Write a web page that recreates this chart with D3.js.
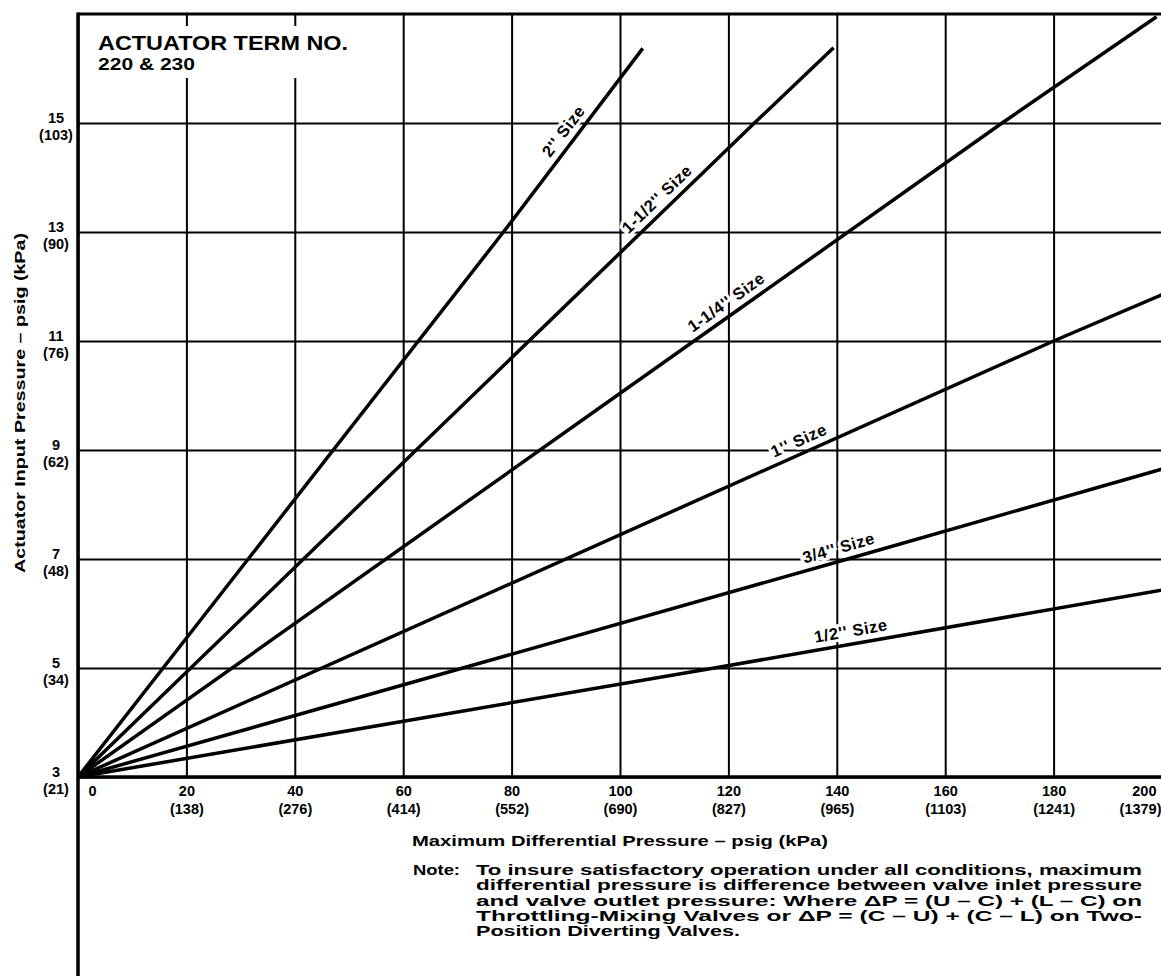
<!DOCTYPE html>
<html>
<head>
<meta charset="utf-8">
<script src="https://cdn.jsdelivr.net/npm/d3@7"></script>
<style>
  body { margin: 0; background: #fff; }
  svg { display: block; background: #fff; }
</style>
</head>
<body>
<div id="chart"></div>
<script>
// valve size curves: differential psi vs. actuator psig
const sizeLabels = ["2'' Size", "1-1/2'' Size", "1-1/4'' Size", "1'' Size", "3/4'' Size", "1/2'' Size"];
const psiValues = [
  [0, 78.5, 104.2],
  [0, 124.8, 139.4],
  [0, 170.5, 199],
  [0, 180, 200],
  [0, 142, 200],
  [0, 117.4, 200]
];
const psigValues = [
  [3, 13, 16.37],
  [3, 15, 16.38],
  [3, 15, 16.95],
  [3, 11, 11.85],
  [3, 7, 8.65],
  [3, 5, 6.43]
];

const xTicks = [0, 20, 40, 60, 80, 100, 120, 140, 160, 180, 200];
const xTicksKpa = ["", "(138)", "(276)", "(414)", "(552)", "(690)", "(827)", "(965)", "(1103)", "(1241)", "(1379)"];
const yTicks = [3, 5, 7, 9, 11, 13, 15];
const yTicksKpa = ["(21)", "(34)", "(48)", "(62)", "(76)", "(90)", "(103)"];

const noteLines = [
  "To insure satisfactory operation under all conditions, maximum",
  "differential pressure is difference between valve inlet pressure",
  "and valve outlet pressure: Where \u0394P = (U \u2013 C) + (L \u2013 C) on",
  "Throttling-Mixing Valves or \u0394P = (C \u2013 U) + (C \u2013 L) on Two-",
  "Position Diverting Valves."
];

// where each size label sits along its line (psi)
const labelPsi = [91.5, 108.5, 121, 134, 141, 143];

const plotTop = 14, plotBottom = 777, plotLeft = 78, plotRight = 1162;

const x = d3.scaleLinear().domain([0, 200]).range([plotLeft, plotRight]);
const y = d3.scaleLinear().domain([3, 17]).range([plotBottom, plotTop]);

const svg = d3.select("#chart").append("svg")
  .attr("width", 1161)
  .attr("height", 976)
  .style("font-family", '"Liberation Sans", Arial, Helvetica, sans-serif')
  .style("font-weight", "bold");

// vertical gridlines and x tick labels
const xAxis = svg.append("g")
  .attr("transform", `translate(0,${plotBottom})`)
  .call(d3.axisBottom(x).tickValues(xTicks).tickSize(-(plotBottom - plotTop)).tickPadding(9));
xAxis.attr("font-family", null).attr("font-size", null);
xAxis.select(".domain").remove();
xAxis.selectAll(".tick line").attr("stroke", "#000").attr("stroke-width", 2);
xAxis.selectAll(".tick text")
  .attr("fill", "#000")
  .attr("font-size", 14.5);
xAxis.selectAll(".tick")
  .append("text")
  .attr("fill", "#000")
  .attr("font-size", 14.5)
  .attr("text-anchor", "middle")
  .attr("y", 37)
  .text((d, i) => xTicksKpa[i]);
// "0" sits right of the axis, "200" is pushed in from the edge
xAxis.selectAll(".tick").filter(d => d === 0).select("text").attr("x", 14);
xAxis.selectAll(".tick").filter(d => d === 200).selectAll("text")
  .attr("text-anchor", "end")
  .attr("x", (d, i) => i === 0 ? -6 : -1);

// horizontal gridlines and y tick labels
const yAxis = svg.append("g")
  .attr("transform", `translate(${plotLeft},0)`)
  .call(d3.axisLeft(y).tickValues(yTicks).tickSize(-(plotRight - plotLeft)).tickPadding(0));
yAxis.attr("font-family", null).attr("font-size", null);
yAxis.select(".domain").remove();
yAxis.selectAll(".tick line").attr("stroke", "#000").attr("stroke-width", 2);
yAxis.selectAll(".tick text")
  .attr("fill", "#000")
  .attr("font-size", 14.5)
  .attr("text-anchor", "middle")
  .attr("x", -22)
  .attr("dy", null)
  .attr("y", -1);
yAxis.selectAll(".tick")
  .append("text")
  .attr("fill", "#000")
  .attr("font-size", 14.5)
  .attr("text-anchor", "middle")
  .attr("x", -22)
  .attr("y", 16)
  .text((d, i) => yTicksKpa[i]);

// frame
svg.append("line")
  .attr("x1", plotLeft).attr("x2", plotLeft)
  .attr("y1", plotTop - 1.5).attr("y2", 976)
  .attr("stroke", "#000").attr("stroke-width", 3.5);
svg.append("line")
  .attr("x1", plotLeft).attr("x2", 1161)
  .attr("y1", plotTop).attr("y2", plotTop)
  .attr("stroke", "#000").attr("stroke-width", 3);
svg.append("line")
  .attr("x1", plotLeft).attr("x2", 1161)
  .attr("y1", plotBottom).attr("y2", plotBottom)
  .attr("stroke", "#000").attr("stroke-width", 3.5);

// title block (knocks out the gridlines behind it)
svg.append("rect")
  .attr("x", plotLeft + 8).attr("y", 26)
  .attr("width", 272).attr("height", 52)
  .attr("fill", "#fff");
svg.append("text")
  .attr("x", 98).attr("y", 50)
  .attr("font-size", 21)
  .attr("textLength", 250)
  .attr("lengthAdjust", "spacingAndGlyphs")
  .text("ACTUATOR TERM NO.");
svg.append("text")
  .attr("x", 98).attr("y", 70)
  .attr("font-size", 16)
  .attr("textLength", 97)
  .attr("lengthAdjust", "spacingAndGlyphs")
  .text("220 & 230");

// point and screen angle along a polyline
function pointAt(xs, ys, v) {
  for (let k = 1; k < xs.length; k++) {
    if (v <= xs[k] || k === xs.length - 1) {
      const t = (v - xs[k - 1]) / (xs[k] - xs[k - 1]);
      const yy = ys[k - 1] + t * (ys[k] - ys[k - 1]);
      const ang = Math.atan2(y(ys[k]) - y(ys[k - 1]), x(xs[k]) - x(xs[k - 1])) * 180 / Math.PI;
      return [x(v), y(yy), ang];
    }
  }
}

// size labels, with a white halo that breaks the gridlines
sizeLabels.forEach((label, i) => {
  const [px, py, ang] = pointAt(psiValues[i], psigValues[i], labelPsi[i]);
  svg.append("text")
    .attr("transform", `translate(${px},${py}) rotate(${ang})`)
    .attr("x", 0)
    .attr("y", -7.5)
    .attr("text-anchor", "middle")
    .attr("font-size", 16.5)
    .attr("letter-spacing", 0.6)
    .attr("stroke", "#fff")
    .attr("stroke-width", 6)
    .attr("paint-order", "stroke")
    .attr("fill", "#000")
    .text(label);
});

// size lines
const line = d3.line()
  .x(d => x(d[0]))
  .y(d => y(d[1]));

sizeLabels.forEach((label, i) => {
  svg.append("path")
    .datum(psiValues[i].map((v, k) => [v, psigValues[i][k]]))
    .attr("fill", "none")
    .attr("stroke", "#000")
    .attr("stroke-width", 3.5)
    .attr("d", line);
});

// axis titles
svg.append("text")
  .attr("x", 620).attr("y", 846)
  .attr("text-anchor", "middle")
  .attr("font-size", 15)
  .attr("textLength", 416)
  .attr("lengthAdjust", "spacingAndGlyphs")
  .text("Maximum Differential Pressure \u2013 psig (kPa)");

svg.append("text")
  .attr("transform", "translate(25,403) rotate(-90)")
  .attr("text-anchor", "middle")
  .attr("font-size", 15)
  .attr("textLength", 340)
  .attr("lengthAdjust", "spacingAndGlyphs")
  .text("Actuator Input Pressure \u2013 psig (kPa)");

// note
svg.append("text")
  .attr("x", 413).attr("y", 875)
  .attr("font-size", 15)
  .attr("textLength", 47)
  .attr("lengthAdjust", "spacingAndGlyphs")
  .text("Note:");

svg.append("g")
  .selectAll("text")
  .data(noteLines)
  .join("text")
  .attr("x", 476)
  .attr("y", (d, i) => 875 + i * 15.3)
  .attr("font-size", 14.5)
  .attr("textLength", (d, i) => i < 4 ? 666 : 264)
  .attr("lengthAdjust", "spacingAndGlyphs")
  .text(d => d);
</script>
</body>
</html>
